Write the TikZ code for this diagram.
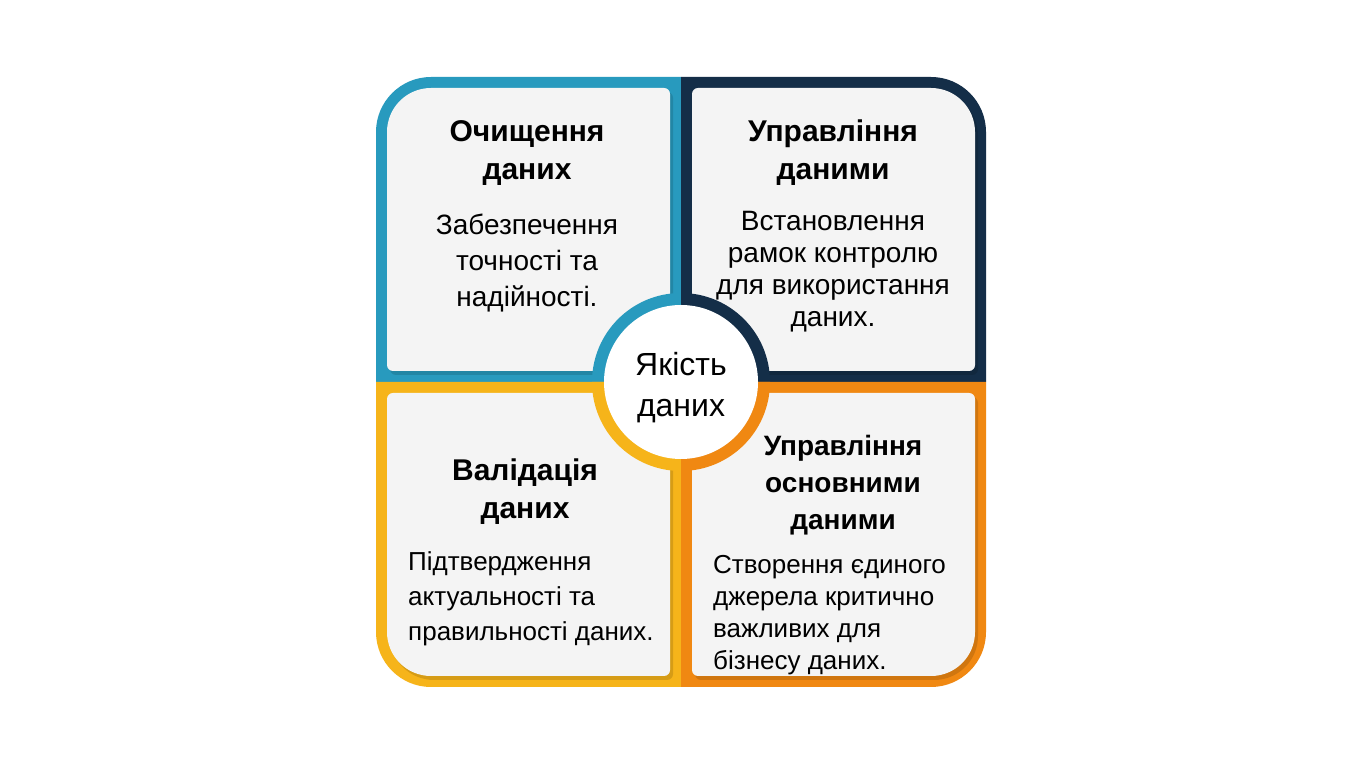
\documentclass[tikz,border=0pt]{standalone}
\usepackage{fontspec}
\setmainfont{Liberation Sans}
\usetikzlibrary{positioning}
\definecolor{tealq}{RGB}{40,154,190}
\definecolor{navyq}{RGB}{20,46,72}
\definecolor{amberq}{RGB}{246,180,26}
\definecolor{orangeq}{RGB}{240,136,18}
\definecolor{cardq}{RGB}{244,244,244}
\tikzstyle{Title} = [align=center, inner sep=0pt, font=\fontsize{30}{38}\selectfont\bfseries]
\tikzstyle{Body} = [inner sep=0pt, font=\fontsize{26}{35}\selectfont]
\tikzstyle{Hub} = [circle, fill=white, minimum size=154pt, inner sep=0pt]
\tikzstyle{HubText} = [align=center, inner sep=0pt, font=\fontsize{32}{41}\selectfont]

%% one quarter, drawn as the top left one and mirrored
\newcommand{\cardpath}{(-294,17) -- (-294,250) arc[start angle=180, end angle=90, radius=44pt]
  -- (-17,294) arc[start angle=90, end angle=0, radius=6pt]
  -- (-11,17) arc[start angle=0, end angle=-90, radius=6pt]
  -- (-288,11) arc[start angle=-90, end angle=-180, radius=6pt] -- cycle}
\newcommand{\drawquad}[3]{%
  \begin{scope}[shift={(681,386)}, xscale=#1, yscale=#2]
    \fill[#3] (0,0) -- (-305,0) -- (-305,250) arc[start angle=180, end angle=90, radius=55pt]
      -- (0,305) -- cycle;
    \fill[black, opacity=0.13, shift={({3*#1},{-4*#2})}] \cardpath;
    \fill[cardq] \cardpath;
    \fill[#3] (0,0) -- (-89,0) arc[start angle=180, end angle=90, radius=89pt] -- cycle;
  \end{scope}}

\begin{document}
\begin{tikzpicture}[x=1pt, y=1pt]
    \fill[white] (0,0) rectangle (1365,768);
    \useasboundingbox (0,0) rectangle (1365,768);

    %% Quarters
    \drawquad{1}{1}{tealq}
    \drawquad{-1}{1}{navyq}
    \drawquad{1}{-1}{amberq}
    \drawquad{-1}{-1}{orangeq}

    %% Hub
    \node [Hub] (hub) at (681,386) {};
    \node [HubText, yshift=-6pt] (hubText) at (hub) {Якість\\даних};

    %% Top
    \node [Title] (cleanTitle) at (527,615) {Очищення\\даних};
    \node [Body, align=center, below=28pt of cleanTitle, font=\fontsize{28}{36}\selectfont] (cleanBody) {Забезпечення\\точності та\\надійності.};
    \node [Title] (govTitle) at (833,615) {Управління\\даними};
    \node [Body, align=center, below=25pt of govTitle, font=\fontsize{28}{32}\selectfont] (govBody) {Встановлення\\рамок контролю\\для використання\\даних.};

    %% Bottom
    \node [Title] (validTitle) at (525,276) {Валідація\\даних};
    \node [Body, align=left, anchor=north west] (validBody) at (408,217) {Підтвердження\\актуальності та\\правильності даних.};
    \node [Title, font=\fontsize{28}{37}\selectfont\bfseries] (masterTitle) at (843,283) {Управління\\основними\\даними};
    \node [Body, align=left, anchor=north west, font=\fontsize{26}{32}\selectfont] (masterBody) at (713,213) {Створення єдиного\\джерела критично\\важливих для\\бізнесу даних.};

\end{tikzpicture}
\end{document}
